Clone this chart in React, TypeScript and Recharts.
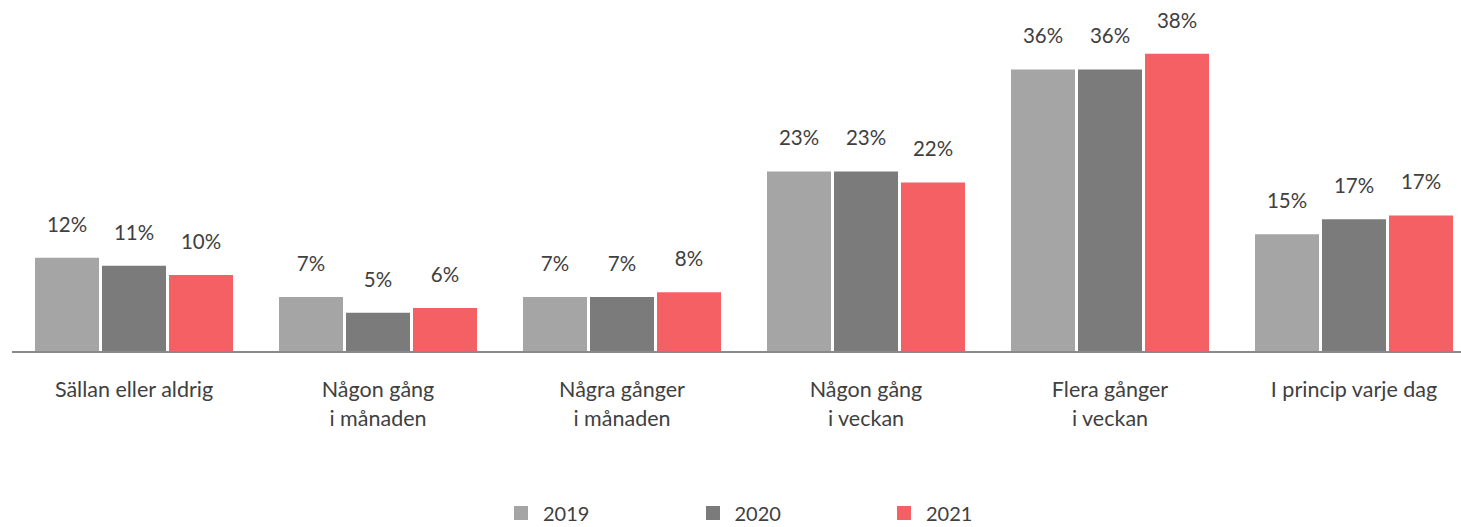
import { BarChart, Bar, XAxis, YAxis, Legend, LabelList } from "recharts";

const categories = [
  ["Sällan eller aldrig"],
  ["Någon gång", "i månaden"],
  ["Några gånger", "i månaden"],
  ["Någon gång", "i veckan"],
  ["Flera gånger", "i veckan"],
  ["I princip varje dag"],
];

const values2019 = [12, 7, 7, 23, 36, 15];
const values2020 = [11, 5, 7, 23, 36, 16.9];
const values2021 = [9.8, 5.6, 7.6, 21.6, 38, 17.4];

const series = [
  { key: "y2019", name: "2019", color: "#a5a5a5" },
  { key: "y2020", name: "2020", color: "#7b7b7b" },
  { key: "y2021", name: "2021", color: "#f46064" },
];

const data = categories.map((lines, i) => ({
  cat: lines.join("\n"),
  y2019: values2019[i],
  y2020: values2020[i],
  y2021: values2021[i],
}));

const FONT = "Lato, 'Open Sans', sans-serif";
const TEXT = "#404040";

function CategoryTick(props: any) {
  const { x, y, payload } = props;
  const lines: string[] = String(payload.value).split("\n");
  return (
    <text x={x} y={y} textAnchor="middle" fill={TEXT} fontSize={21.5} fontFamily={FONT}>
      {lines.map((l, i) => (
        <tspan key={i} x={x} dy={i === 0 ? 45 : 29}>
          {l}
        </tspan>
      ))}
    </text>
  );
}

function LegendContent() {
  return (
    <div style={{ display: "flex", height: 24, paddingLeft: 514, alignItems: "center" }}>
      {series.map((s) => (
        <div key={s.key} style={{ width: 191.5, display: "flex", alignItems: "center" }}>
          <span style={{ width: 14, height: 14, background: s.color, marginRight: 15 }} />
          <span style={{ fontSize: 20, fontFamily: FONT, color: TEXT }}>{s.name}</span>
        </div>
      ))}
    </div>
  );
}

export default function App() {
  return (
    <div style={{ width: 1461, height: 527, overflow: "hidden", background: "#fff" }}>
      <style>{`body{margin:0}`}</style>
      <BarChart
        width={1476}
        height={540}
        data={data}
        margin={{ top: 38, right: 0, left: 12, bottom: 15 }}
        barSize={64}
        barGap={3}
      >
        <XAxis
          dataKey="cat"
          height={149}
          tickSize={0}
          tickMargin={0}
          interval={0}
          tick={<CategoryTick />}
          axisLine={{ stroke: "#898989", strokeWidth: 2 }}
        />
        <YAxis hide domain={[0, 40]} />
        <Legend verticalAlign="bottom" content={<LegendContent />} wrapperStyle={{ left: 0, width: 1476 }} />
        {series.map((s) => (
          <Bar key={s.key} dataKey={s.key} name={s.name} fill={s.color} isAnimationActive={false}>
            <LabelList
              dataKey={s.key}
              position="top"
              offset={26}
              formatter={(v: any) => `${Math.round(Number(v))}%`}
              fill={TEXT}
              fontSize={20.5}
              fontFamily={FONT}
            />
          </Bar>
        ))}
      </BarChart>
    </div>
  );
}
